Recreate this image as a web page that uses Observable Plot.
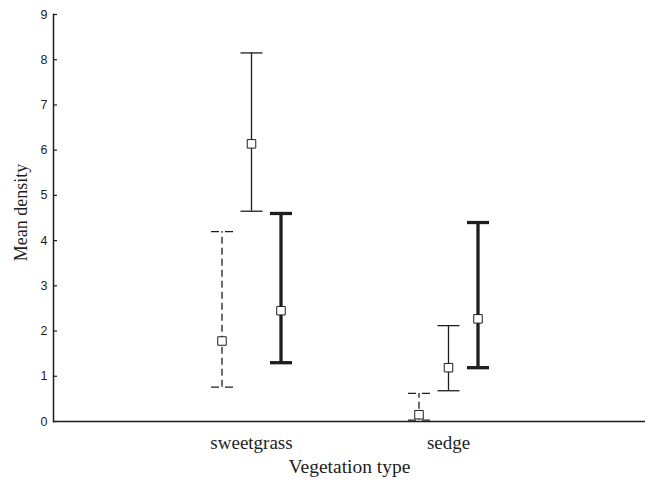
<!DOCTYPE html>
<html><head><meta charset="utf-8">
<script src="https://cdn.jsdelivr.net/npm/d3@7"></script>
<script src="https://cdn.jsdelivr.net/npm/@observablehq/plot@0.6"></script>
<style>body{margin:0;background:#fff}</style>
</head><body><div id="chart"></div>
<script>
// Data
const categories = ["sweetgrass", "sedge"];
const groups = ["Group 1", "Group 2", "Group 3"];
const yTicks = [0, 1, 2, 3, 4, 5, 6, 7, 8, 9];

const means1 = [1.78, 0.15], lows1 = [0.76, 0.03], highs1 = [4.20, 0.62];
const means2 = [6.14, 1.19], lows2 = [4.65, 0.68], highs2 = [8.15, 2.12];
const means3 = [2.45, 2.27], lows3 = [1.30, 1.19], highs3 = [4.60, 4.40];

const allMeans = [means1, means2, means3];
const allLows = [lows1, lows2, lows3];
const allHighs = [highs1, highs2, highs3];

// Styles (separate from data)
const ink = "#1e1e1e";
const groupStyles = [
  {dx: -29.5, width: 1.3, dash: "7,4", capDash: "8,6"},
  {dx: 0, width: 1.3, dash: null, capDash: null},
  {dx: 29.5, width: 3.3, dash: null, capDash: null}
];

// horizontal cap symbol: half-width equals the dot radius
const capSymbol = {
  draw(context, size) {
    const h = Math.sqrt(size / Math.PI);
    context.moveTo(-h, 0);
    context.lineTo(h, 0);
  }
};

const marks = [];
groups.forEach((g, gi) => {
  const rows = categories.map((c, ci) => ({
    category: c, group: g,
    mean: allMeans[gi][ci], low: allLows[gi][ci], high: allHighs[gi][ci]
  }));
  const s = groupStyles[gi];
  marks.push(Plot.ruleX(rows, {x: "category", y1: "low", y2: "high", dx: s.dx,
    stroke: ink, strokeWidth: s.width, strokeDasharray: s.dash}));
  for (const key of ["low", "high"]) {
    marks.push(Plot.dot(rows, {x: "category", y: key, dx: s.dx,
      symbol: capSymbol, r: 11, fill: "none",
      stroke: ink, strokeWidth: s.width, strokeDasharray: s.capDash}));
  }
});
groups.forEach((g, gi) => {
  const rows = categories.map((c, ci) => ({category: c, group: g, mean: allMeans[gi][ci]}));
  marks.push(Plot.dot(rows, {x: "category", y: "mean", dx: groupStyles[gi].dx,
    symbol: "square", r: 4.8, fill: "white", stroke: ink, strokeWidth: 1}));
});

const chart = Plot.plot({
  width: 645,
  height: 488,
  marginLeft: 53,
  marginRight: 0,
  marginTop: 14,
  marginBottom: 67,
  style: {background: "#fff", color: ink, overflow: "visible"},
  x: {type: "point", domain: categories, range: [251, 448], padding: 0},
  y: {domain: [0, 9]},
  marks: [
    Plot.axisY({ticks: yTicks, tickSize: -4, tickPadding: 10, fontSize: 12.5,
      fontFamily: "Liberation Sans", label: null, tickFormat: d => d, strokeWidth: 1.2}),
    Plot.frame({anchor: "left", stroke: ink, strokeWidth: 1.5}),
    Plot.axisX({tickSize: 0, tickPadding: 14, fontSize: 19,
      fontFamily: "Liberation Serif", label: null}),
    Plot.ruleY([0], {stroke: ink, strokeWidth: 1.5}),
    ...marks,
    Plot.text(["Vegetation type"], {text: d => d, frameAnchor: "bottom", dy: 51,
      fontSize: 19.5, fontFamily: "Liberation Serif", fill: ink}),
    Plot.text(["Mean density"], {text: d => d, frameAnchor: "left", textAnchor: "middle",
      rotate: -90, dx: -32, dy: -5.5, fontSize: 18, fontFamily: "Liberation Serif", fill: ink})
  ]
});
document.getElementById("chart").appendChild(chart);
</script>
</body></html>
